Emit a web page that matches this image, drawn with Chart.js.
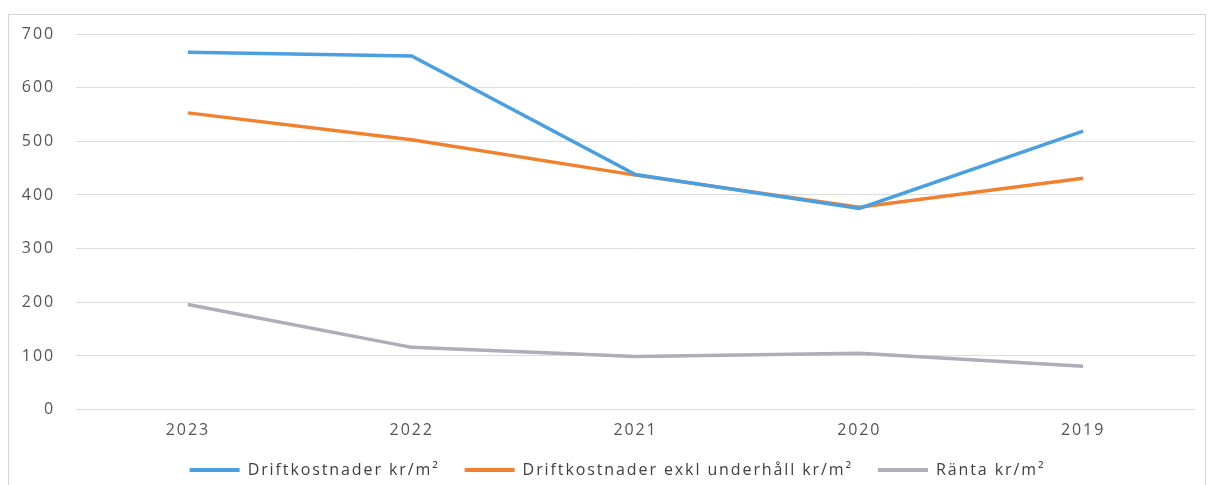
<!DOCTYPE html>
<html>
<head>
<meta charset="utf-8">
<script src="https://cdn.jsdelivr.net/npm/chart.js@4/dist/chart.umd.min.js"></script>
<style>
  html, body { margin: 0; padding: 0; background: #ffffff; overflow: hidden; }
  #wrap { position: absolute; left: 0; top: 0; width: 1212px; height: 485px; }
  #frame { position: absolute; left: 8px; top: 14px; width: 1198px; height: 471px; border: 1px solid #d4d4d4; border-bottom: none; box-sizing: border-box; }
  canvas { position: absolute; left: 0; top: 0; }
</style>
</head>
<body>
<div id="wrap">
  <div id="frame"></div>
  <canvas id="chart" width="1212" height="485"></canvas>
</div>
<script>
// Years, newest first
const years = ['2023', '2022', '2021', '2020', '2019'];
// Operating costs per square metre
const driftkostnader = [666, 659, 438, 375, 519];
// Operating costs excluding maintenance per square metre
const driftkostnaderExklUnderhall = [553, 503, 437, 377, 431];
// Interest per square metre
const ranta = [196, 116, 99, 105, 81];
// Y axis ticks
const yTicks = [0, 100, 200, 300, 400, 500, 600, 700];

const textFont = { family: 'Open Sans', size: 16, lineHeight: 1.2 };
const LETTER_SPACING = '1.9px';
const LEGEND_SHIFT = 20;

// Wide, airy lettering for every label on the canvas
const spacingPlugin = {
  id: 'letterSpacing',
  beforeUpdate(chart) { if ('letterSpacing' in chart.ctx) chart.ctx.letterSpacing = LETTER_SPACING; },
  beforeDraw(chart) { if ('letterSpacing' in chart.ctx) chart.ctx.letterSpacing = LETTER_SPACING; }
};

// Centre the legend row under the whole frame rather than the canvas
const legendShiftPlugin = {
  id: 'legendShift',
  afterLayout(chart) {
    const lg = chart.legend;
    if (lg) { lg.left += LEGEND_SHIFT; lg.right += LEGEND_SHIFT; }
  }
};

new Chart(document.getElementById('chart'), {
  type: 'line',
  data: {
    labels: years,
    datasets: [
      { label: 'Driftkostnader kr/m²', data: driftkostnader, borderColor: '#4a9fe0', backgroundColor: '#4a9fe0' },
      { label: 'Driftkostnader exkl underhåll kr/m²', data: driftkostnaderExklUnderhall, borderColor: '#f0812f', backgroundColor: '#f0812f' },
      { label: 'Ränta kr/m²', data: ranta, borderColor: '#aeadb8', backgroundColor: '#aeadb8' }
    ]
  },
  plugins: [spacingPlugin, legendShiftPlugin],
  options: {
    responsive: false,
    animation: false,
    devicePixelRatio: 1,
    layout: { padding: { left: 0, right: 17, top: 34, bottom: -3 } },
    elements: {
      line: { borderWidth: 3.5, tension: 0 },
      point: { radius: 0 }
    },
    scales: {
      x: {
        offset: true,
        grid: { display: false },
        border: { display: false },
        afterFit: (axis) => { axis.height = 27.4; },
        ticks: { color: '#555555', font: textFont, padding: 3, maxRotation: 0 }
      },
      y: {
        min: 0,
        max: 700,
        afterBuildTicks: (axis) => { axis.ticks = yTicks.map(v => ({ value: v })); },
        afterFit: (axis) => { axis.width = 76; },
        grid: { color: '#dcdcdc', lineWidth: 1, drawTicks: false },
        border: { display: false },
        ticks: { color: '#555555', font: textFont, padding: 21 }
      }
    },
    plugins: {
      tooltip: { enabled: false },
      legend: {
        position: 'bottom',
        labels: {
          color: '#404040',
          font: textFont,
          boxWidth: 50,
          boxHeight: 4,
          padding: 25,
          generateLabels: (chart) => Chart.defaults.plugins.legend.labels.generateLabels(chart)
            .map(item => Object.assign(item, { lineWidth: 0 }))
        }
      }
    }
  }
});
</script>
</body>
</html>
